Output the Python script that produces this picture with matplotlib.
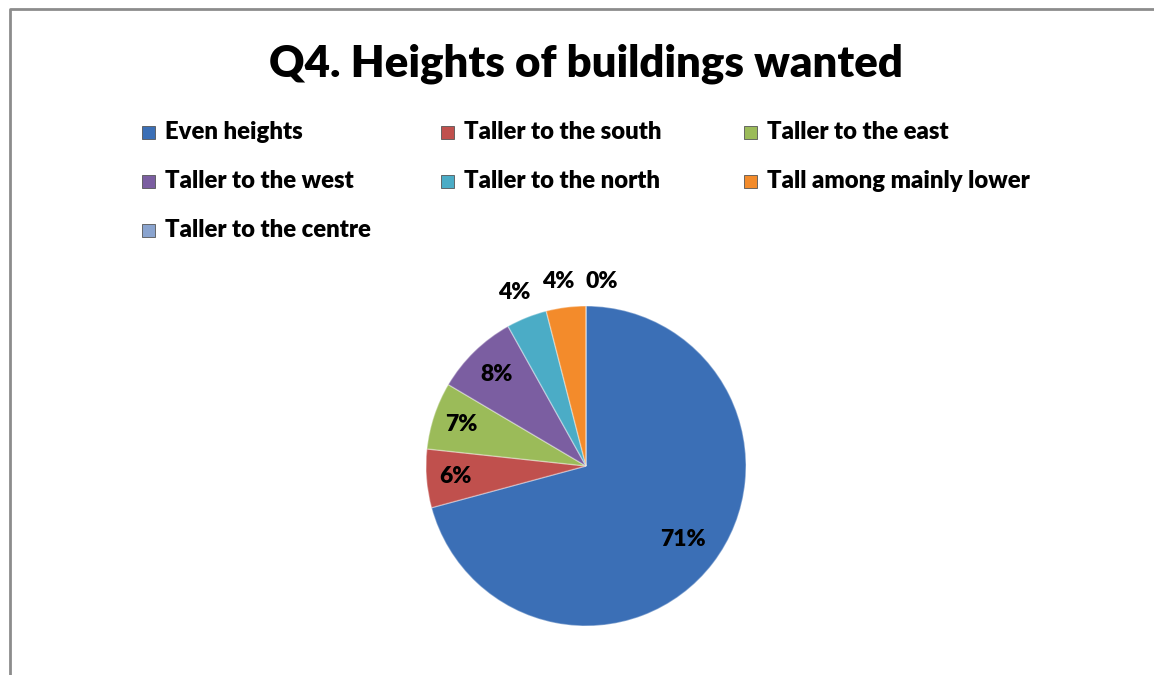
# -*- coding: utf-8 -*-
# Q4 pie chart, Excel style

import numpy as np
import matplotlib.pyplot as plt
import matplotlib.patches as patches

categories = ['Even heights', 'Taller to the south', 'Taller to the east',
              'Taller to the west', 'Taller to the north',
              'Tall among mainly lower', 'Taller to the centre']
values = [70.8, 5.9, 6.8, 8.4, 4.1, 4.0, 0.0]
colors = ['#3b6fb6', '#c0504d', '#9bbb59', '#7b5ea1', '#4bacc6', '#f38b2b', '#8aa4cf']
label_r = [0.76, 0.82, 0.82, 0.80, 1.17, 1.16, 1.15]
label_nudge = [0, 0, 0, 0, -2, -5, 0]   # px, horizontal

W, H = 1154, 675
FONT = 'Lato'

fig = plt.figure(figsize=(W / 100, H / 100), dpi=100)

# overlay in pixel coords
ov = fig.add_axes([0, 0, 1, 1])
ov.set_xlim(0, W)
ov.set_ylim(H, 0)
ov.set_axis_off()

# chart frame (only top and left edge visible)
ov.plot([10, 10, W], [H, 8.5, 8.5], color='#8c8c8c', lw=2, solid_capstyle='butt')

ov.text(586, 64, 'Q4. Heights of buildings wanted', ha='center', va='center',
        fontsize=31.5, fontweight='heavy', family=FONT)

# legend, filled row by row like excel
col_x = [148, 447, 750]
row_y = [132, 181, 230]
for i, (name, c) in enumerate(zip(categories, colors)):
    x = col_x[i % 3]
    y = row_y[i // 3]
    ov.add_patch(patches.Rectangle((x - 6, y - 6.5), 13, 13, facecolor=c,
                                   edgecolor='#555555', lw=0.6))
    ov.text(x + 17, y, name, ha='left', va='center', fontsize=17.2,
            fontweight='heavy', family=FONT)

# pie axes placed so center=(586,466), radius=160 px
cx, cy, r = 586, 466, 160
pax = fig.add_axes([(cx - r) / W, 1 - (cy + r) / H, 2 * r / W, 2 * r / H])
wedges, _ = pax.pie(values, colors=colors, startangle=90, counterclock=False,
                    radius=1,
                    wedgeprops=dict(edgecolor=(1, 1, 1, 0.35), linewidth=1))
pax.set_xlim(-1, 1)
pax.set_ylim(-1, 1)
pax.set_axis_off()

total = float(sum(values))
start = 90.0
for v, lr, nx in zip(values, label_r, label_nudge):
    sweep = 360.0 * v / total
    mid = np.deg2rad(start - sweep / 2)
    start -= sweep
    ha = 'left' if v == 0 else 'center'
    pax.annotate('%.0f%%' % v, (lr * np.cos(mid), lr * np.sin(mid)),
                 xytext=(nx * 0.72, 0), textcoords='offset points',
                 ha=ha, va='center', fontsize=16.5, fontweight='heavy',
                 family=FONT, annotation_clip=False)

fig.savefig('out.png', dpi=100)
